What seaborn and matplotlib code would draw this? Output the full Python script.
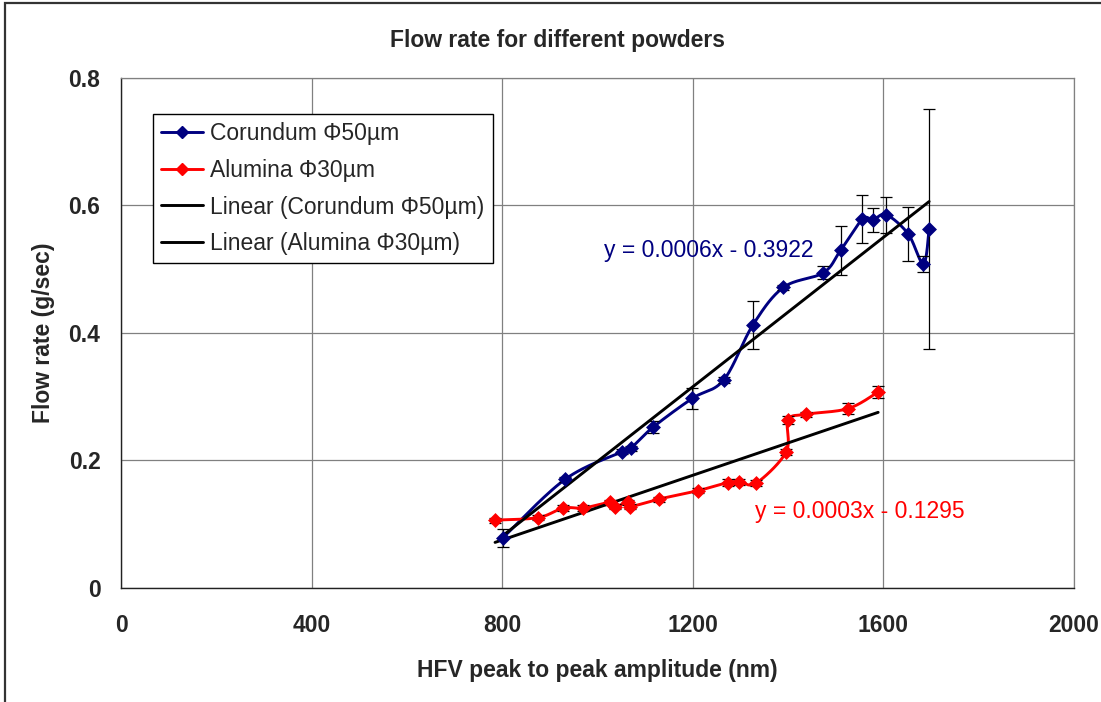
import numpy as np
import matplotlib
matplotlib.use("Agg")
import matplotlib.pyplot as plt
import seaborn as sns
from matplotlib.lines import Line2D
from matplotlib.patches import Rectangle

# ---------------- data ----------------
corundum_x = [801, 932, 1051, 1070, 1117, 1199, 1265, 1326, 1390, 1474,
              1510, 1556, 1578, 1606, 1652, 1684, 1696]
corundum_y = [0.078, 0.170, 0.213, 0.219, 0.252, 0.297, 0.326, 0.412, 0.471, 0.494,
              0.529, 0.578, 0.577, 0.585, 0.555, 0.508, 0.563]
corundum_err = [0.014, 0.004, 0.004, 0.004, 0.010, 0.016, 0.005, 0.037, 0.004, 0.010,
                0.038, 0.038, 0.019, 0.028, 0.042, 0.013, 0.188]

alumina_x = [785, 876, 928, 970, 1027, 1036, 1064, 1068, 1129, 1210,
             1274, 1298, 1333, 1396, 1400, 1437, 1526, 1589]
alumina_y = [0.106, 0.110, 0.125, 0.125, 0.134, 0.127, 0.134, 0.127, 0.139, 0.152,
             0.165, 0.166, 0.164, 0.213, 0.263, 0.272, 0.281, 0.307]
alumina_err = [0.004, 0.004, 0.004, 0.004, 0.004, 0.004, 0.004, 0.004, 0.004, 0.004,
               0.005, 0.005, 0.005, 0.005, 0.006, 0.004, 0.008, 0.009]

corundum_label = "Corundum \u03a650\u00b5m"
alumina_label = "Alumina \u03a630\u00b5m"
corundum_eq = "y = 0.0006x - 0.3922"
alumina_eq = "y = 0.0003x - 0.1295"

x_ticks = [0, 400, 800, 1200, 1600, 2000]
y_ticks = [0, 0.2, 0.4, 0.6, 0.8]
y_tick_labels = ["0", "0.2", "0.4", "0.6", "0.8"]

BLUE = "#000080"
RED = "#ff0000"
GRID = "#808080"

sns.set_style("white")
plt.rcParams["font.family"] = ["Liberation Sans", "DejaVu Sans"]

W, H = 1101, 702
fig = plt.figure(figsize=(W / 100, H / 100), dpi=100)
ax = fig.add_axes([121 / W, 1 - 587.7 / H, 953 / W, 510 / H])
ax.set_xlim(0, 2000)
ax.set_ylim(0, 0.8)


def smooth(xs, ys, n=30):
    # Excel-style smoothed line: Bezier through points, built in screen space
    pts = ax.transData.transform(np.column_stack([xs, ys]))
    out = [pts[0]]
    for i in range(len(pts) - 1):
        p0 = pts[i - 1] if i > 0 else pts[i]
        p1, p2 = pts[i], pts[i + 1]
        p3 = pts[i + 2] if i + 2 < len(pts) else pts[i + 1]
        c1 = p1 + (p2 - p0) / 6
        c2 = p2 - (p3 - p1) / 6
        t = np.linspace(0, 1, n)[1:, None]
        seg = ((1 - t) ** 3) * p1 + 3 * ((1 - t) ** 2) * t * c1 + 3 * (1 - t) * t ** 2 * c2 + t ** 3 * p2
        out.extend(seg)
    out = ax.transData.inverted().transform(np.array(out))
    return out[:, 0], out[:, 1]


for xs, ys, errs, col in [(corundum_x, corundum_y, corundum_err, BLUE),
                          (alumina_x, alumina_y, alumina_err, RED)]:
    sx, sy = smooth(xs, ys)
    ax.plot(sx, sy, color=col, lw=2.1, zorder=3)
    ax.errorbar(xs, ys, yerr=errs, fmt="none", ecolor="black", elinewidth=0.9,
                capsize=4.3, capthick=0.9, zorder=4)
    sns.scatterplot(x=xs, y=ys, marker="D", s=58, color=col, edgecolor=col,
                    linewidth=0, ax=ax, zorder=5)

# linear trendlines
sns.regplot(x=corundum_x, y=corundum_y, ax=ax, scatter=False, ci=None, truncate=True,
            color="black", line_kws={"lw": 2.1, "zorder": 3.5})
sns.regplot(x=alumina_x, y=alumina_y, ax=ax, scatter=False, ci=None, truncate=True,
            color="black", line_kws={"lw": 2.1, "zorder": 3.5})

ax.text(0.507, 0.662, corundum_eq, transform=ax.transAxes, color=BLUE,
        fontsize=16.5, ha="left", va="center")
ax.text(0.665, 0.150, alumina_eq, transform=ax.transAxes, color=RED,
        fontsize=16.5, ha="left", va="center")

# axes styling
ax.set_xticks(x_ticks)
ax.set_xticklabels([str(v) for v in x_ticks])
ax.set_yticks(y_ticks)
ax.set_yticklabels(y_tick_labels)
ax.grid(True, color=GRID, lw=0.9)
ax.set_axisbelow(True)
for side in ["left", "bottom"]:
    ax.spines[side].set_color("#222222")
    ax.spines[side].set_linewidth(1.0)
for side in ["top", "right"]:
    ax.spines[side].set_color(GRID)
    ax.spines[side].set_linewidth(0.9)
ax.tick_params(axis="both", direction="out", length=5.8, width=0.9, color="#222222",
               labelsize=16.5)
ax.tick_params(axis="y", pad=9)
ax.tick_params(axis="x", pad=13)
for lab in ax.get_xticklabels() + ax.get_yticklabels():
    lab.set_fontweight("bold")
ax.set_xlabel("HFV peak to peak amplitude (nm)", fontsize=16.5, fontweight="bold", labelpad=16)
ax.set_ylabel("Flow rate (g/sec)", fontsize=16.5, fontweight="bold", labelpad=10)

fig.text(558 / W, 1 - 40 / H, "Flow rate for different powders", fontsize=16.5,
         fontweight="bold", ha="center", va="center")

handles = [
    Line2D([], [], color=BLUE, lw=2.1, marker="D", markersize=6),
    Line2D([], [], color=RED, lw=2.1, marker="D", markersize=6),
    Line2D([], [], color="black", lw=2.1),
    Line2D([], [], color="black", lw=2.1),
]
labels = [corundum_label, alumina_label,
          "Linear (" + corundum_label + ")", "Linear (" + alumina_label + ")"]
leg = ax.legend(handles, labels, loc="upper left",
                bbox_to_anchor=((153 - 121) / 953, (587.7 - 114) / 510),
                borderaxespad=0, fontsize=16.5, frameon=True, fancybox=False,
                handlelength=1.85, handletextpad=0.3, labelspacing=0.6,
                borderpad=0.35)
leg.get_frame().set_edgecolor("black")
leg.get_frame().set_linewidth(1.0)
leg.get_frame().set_facecolor("white")
leg.get_frame().set_alpha(1)

# chart-area border
fig.patches.append(Rectangle((5 / W, -0.2), 1.5, 1 - 3 / H + 0.2, transform=fig.transFigure,
                             fill=False, edgecolor="#333333", lw=1.6, clip_on=False))

fig.savefig("out.png", dpi=100)
